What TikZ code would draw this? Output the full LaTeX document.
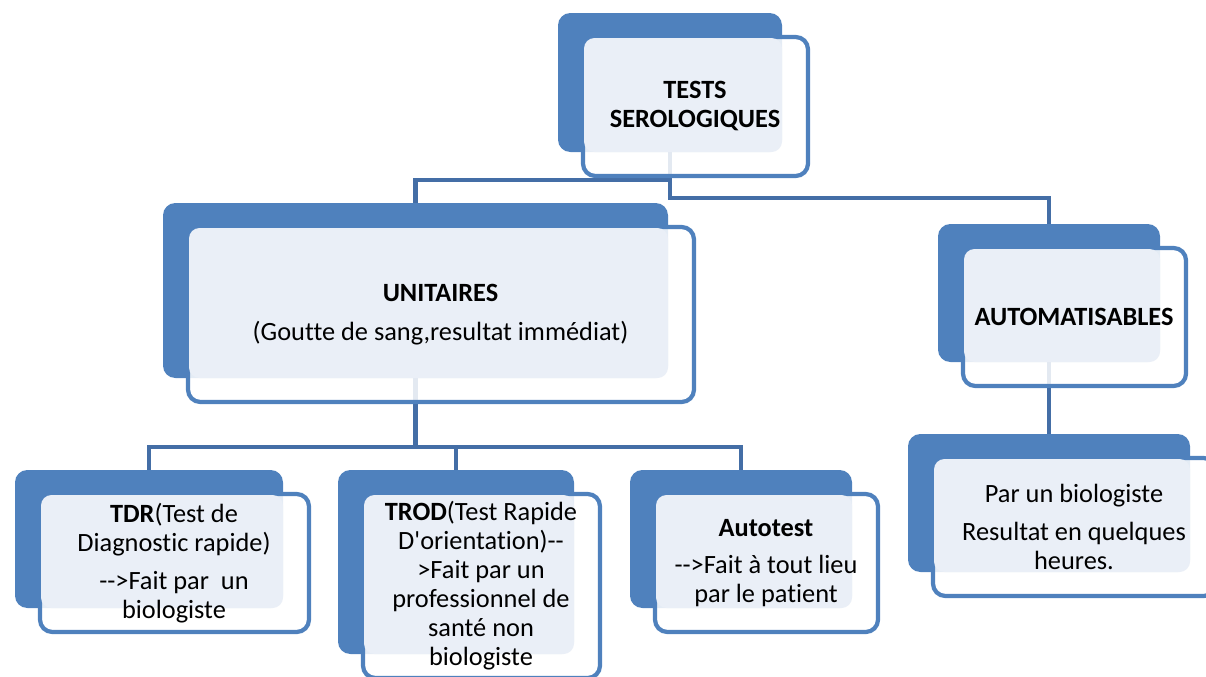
\documentclass[tikz,border=0pt]{standalone}
\usepackage{fontspec}
\setmainfont{Carlito}[Ligatures=NoCommon]
\usetikzlibrary{backgrounds}
\definecolor{boxblue}{RGB}{79,129,189}
\definecolor{boxlight}{RGB}{234,239,247}
\definecolor{connblue}{RGB}{68,110,166}
% back box, framed box and text; #2..#5 = corners of the back box
\newcommand{\serobox}[6]{%
  \fill[backfill] (#2,#3) rectangle (#4,#5);
  \draw[outerline] (#2+25,#3+24) rectangle (#4+26,#5+24);
  \fill[lightfill] (#2+26,#3+25) rectangle (#4,#5);
  \node[boxtext] (#1) at ({(#2+#4)/2+25},{(#3+#5)/2+24}) {#6};
  \coordinate (#1-top) at ({(#2+#4)/2},#3);
  \coordinate (#1-bot) at ({(#2+#4)/2},#5);
}
\begin{document}
\begin{tikzpicture}[x=0.02cm, y=-0.02cm,
  backfill/.style={fill=boxblue, rounded corners=7pt},
  outerline/.style={draw=boxblue, line width=2.4pt, fill=white, fill opacity=.85, rounded corners=7pt},
  lightfill/.style={fill=boxlight, rounded corners=6pt},
  boxtext/.style={align=center, font=\fontsize{15}{16.5}\selectfont},
  conn/.style={draw=connblue, line width=2.3pt}]
\useasboundingbox (0,0) rectangle (1206,676);
\clip (0,0) rectangle (1206,676);
\serobox{tests}{558}{13}{782}{152}{\textbf{TESTS}\\\textbf{SEROLOGIQUES}}
\serobox{unit}{163}{203}{668}{378}{\textbf{UNITAIRES}\\[6pt](Goutte de sang,resultat immédiat)}
\serobox{auto}{938}{224}{1160}{362}{\textbf{AUTOMATISABLES}}
\serobox{tdr}{15}{470}{283}{608}{\textbf{TDR}(Test de\\Diagnostic rapide)\\[5pt]-{}->Fait par~ un\\biologiste}
\serobox{trod}{338}{470}{574}{654}{\textbf{TROD}(Test Rapide\\D\textquotesingle orientation)-{}-\\>Fait par un\\professionnel de\\santé non\\biologiste}
\serobox{autot}{630}{470}{852}{608}{\textbf{Autotest}\\[5pt]-{}->Fait à tout lieu\\par le patient}
\serobox{bio}{908}{434}{1190}{572}{Par un biologiste\\[5pt]Resultat en quelques\\heures.}
% connectors
\begin{scope}[on background layer]
\draw[conn] (tests-bot) -- ++(0,28) -| (unit-top);
\draw[conn] (tests-bot) -- ++(0,46) -| (auto-top);
\draw[conn] (unit-bot) -- ++(0,69) -| (tdr-top);
\draw[conn] (unit-bot) -- ++(0,69) -| (trod-top);
\draw[conn] (unit-bot) -- ++(0,69) -| (autot-top);
\draw[conn] (auto-bot) -- (bio-top);
\end{scope}
\end{tikzpicture}
\end{document}
